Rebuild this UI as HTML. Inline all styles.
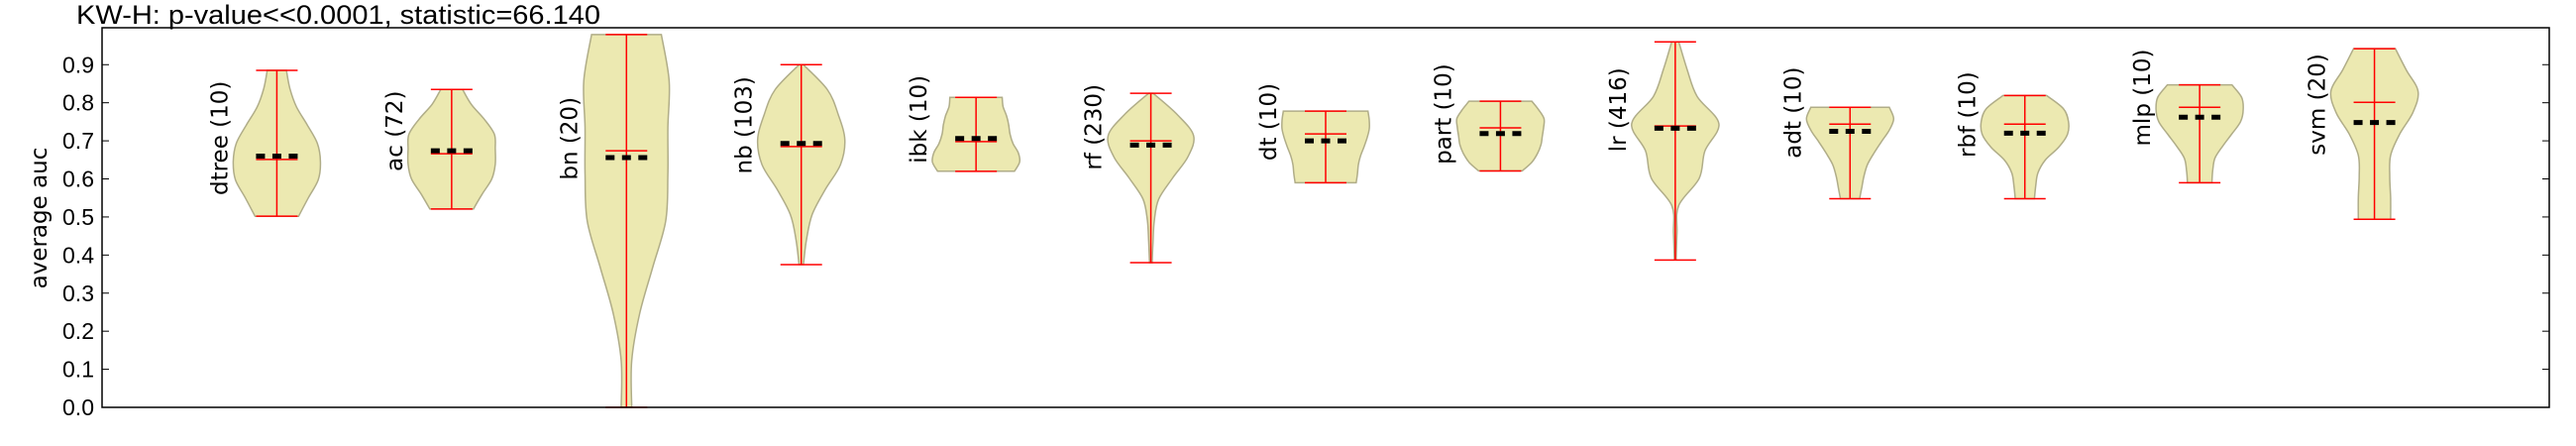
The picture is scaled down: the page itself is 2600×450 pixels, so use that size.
<!DOCTYPE html>
<html><head><meta charset="utf-8">
<style>
html,body{margin:0;padding:0;background:#fff;}
svg{display:block;}
.tick{font-family:"Liberation Sans Narrow","Liberation Sans",sans-serif;font-size:23px;fill:#000;}
.lbl{font-family:"DejaVu Sans","Liberation Sans",sans-serif;font-size:23px;fill:#000;}
</style></head>
<body>
<svg id="chart" width="2600" height="450" viewBox="0 0 2600 450" xmlns="http://www.w3.org/2000/svg">
  <text x="77" y="24" class="tick" style="font-size:27px" textLength="529" lengthAdjust="spacingAndGlyphs">KW-H: p-value&lt;&lt;0.0001, statistic=66.140</text>
  <text class="lbl" transform="translate(47,220) rotate(-90)" text-anchor="middle">average auc</text>
  <g id="marks"></g>
  <g id="axes"></g>
</svg>
<script>
const categories = ["dtree (10)","ac (72)","bn (20)","nb (103)","ibk (10)","rf (230)","dt (10)","part (10)","lr (416)","adt (10)","rbf (10)","mlp (10)","svm (20)"];
const minVals = [0.502,0.521,0.0,0.375,0.62,0.38,0.59,0.621,0.387,0.548,0.548,0.59,0.494];
const maxVals = [0.885,0.835,0.979,0.90,0.814,0.825,0.778,0.804,0.96,0.788,0.819,0.847,0.942];
const meanVals = [0.651,0.666,0.674,0.685,0.698,0.70,0.718,0.734,0.739,0.744,0.744,0.788,0.801];
const medianVals = [0.66,0.674,0.656,0.693,0.706,0.689,0.70,0.719,0.733,0.725,0.72,0.762,0.748];
const labelY = [0.557,0.62,0.597,0.613,0.641,0.623,0.648,0.638,0.671,0.654,0.656,0.686,0.662];
// relative density widths, 9 evenly spaced levels from min to max
const densities = [
 [0.5,0.72,0.95,1.0,0.93,0.7,0.45,0.3,0.22],
 [0.5,0.7,0.92,1.0,1.0,0.98,0.75,0.45,0.25],
 [0.12,0.12,0.3,0.6,0.9,0.95,0.95,0.98,0.8],
 [0.05,0.12,0.25,0.55,0.9,1.0,0.85,0.6,0.05],
 [0.88,1.0,0.97,0.85,0.78,0.75,0.7,0.62,0.6],
 [0.03,0.05,0.08,0.18,0.5,0.85,0.98,0.6,0.05],
 [0.7,0.73,0.75,0.8,0.88,0.95,1.0,1.0,0.97],
 [0.5,0.72,0.85,0.93,0.96,0.99,1.0,0.88,0.72],
 [0.02,0.04,0.08,0.55,0.68,1.0,0.5,0.27,0.08],
 [0.22,0.27,0.32,0.4,0.55,0.72,0.9,1.0,0.9],
 [0.22,0.25,0.3,0.47,0.78,0.98,1.0,0.88,0.5],
 [0.28,0.3,0.35,0.53,0.74,0.94,1.0,0.96,0.74],
 [0.37,0.37,0.35,0.37,0.58,0.88,1.0,0.73,0.48]
];
const yTicks = [0.0,0.1,0.2,0.3,0.4,0.5,0.6,0.7,0.8,0.9];
const yTickLabels = ["0.0","0.1","0.2","0.3","0.4","0.5","0.6","0.7","0.8","0.9"];

const NS="http://www.w3.org/2000/svg";
const L=103,R=2573,T=28,B=411;
const xMin=0,xMax=14,yMin=0,yMax=0.997;
function xs(v){return L+(v-xMin)/(xMax-xMin)*(R-L);}
function ys(v){return B-(v-yMin)/(yMax-yMin)*(B-T);}
const HW=44, CAP=21;
function mk(tag,attrs,parent){const e=document.createElementNS(NS,tag);for(const k in attrs)e.setAttribute(k,attrs[k]);parent.appendChild(e);return e;}
const marks=document.getElementById('marks');
const axes=document.getElementById('axes');

function smoothPath(pts){
  let d="M"+pts[0][0].toFixed(1)+","+pts[0][1].toFixed(1);
  for(let i=0;i<pts.length-1;i++){
    const p0=pts[Math.max(0,i-1)],p1=pts[i],p2=pts[i+1],p3=pts[Math.min(pts.length-1,i+2)];
    const c1=[p1[0]+(p2[0]-p0[0])/6,p1[1]+(p2[1]-p0[1])/6];
    const c2=[p2[0]-(p3[0]-p1[0])/6,p2[1]-(p3[1]-p1[1])/6];
    d+=" C"+c1[0].toFixed(1)+","+c1[1].toFixed(1)+" "+c2[0].toFixed(1)+","+c2[1].toFixed(1)+" "+p2[0].toFixed(1)+","+p2[1].toFixed(1);
  }
  return d;
}

categories.forEach((cat,i)=>{
  const cx=xs(i+1);
  const g=mk('g',{},marks);
  
  
  const dens=densities[i],n=dens.length;
  const right=[],left=[];
  for(let k=0;k<n;k++){
    const v=minVals[i]+(maxVals[i]-minVals[i])*k/(n-1);
    right.push([cx+dens[k]*HW,ys(v)]);
  }
  for(let k=n-1;k>=0;k--){
    const v=minVals[i]+(maxVals[i]-minVals[i])*k/(n-1);
    left.push([cx-dens[k]*HW,ys(v)]);
  }
  let d=smoothPath(right);
  d+=" L"+left[0][0].toFixed(1)+","+left[0][1].toFixed(1);
  d+=smoothPath(left).replace(/^M[^ ]+/,"");
  d+=" Z";
  const body=mk('path',{d:d,fill:'#ece9b1',stroke:'#b0ad88','stroke-width':1.5},g);
  
  
  const vl=mk('line',{x1:cx,x2:cx,y1:ys(minVals[i]),y2:ys(maxVals[i]),stroke:'#ff0000','stroke-width':1.5},g);
  
  
  [[maxVals[i],'max-cap'],[minVals[i],'min-cap'],[meanVals[i],'mean-line']].forEach(([v,nm])=>{
    const l=mk('line',{x1:cx-CAP,x2:cx+CAP,y1:ys(v),y2:ys(v),stroke:'#ff0000','stroke-width':1.5},g);
    
    
  });
  const md=mk('line',{x1:cx-21,x2:cx+21,y1:ys(medianVals[i]),y2:ys(medianVals[i]),stroke:'#000','stroke-width':5,'stroke-dasharray':'9,7.5'},g);
  
  
  const t=mk('text',{class:'lbl',transform:'translate('+(cx-50)+','+ys(labelY[i])+') rotate(-90)'},g);
  t.textContent=cat;
  
  
});

// axes frame
const fr=mk('rect',{x:L,y:T,width:R-L,height:B-T,fill:'none',stroke:'#000','stroke-width':1.5},axes);


yTicks.forEach((v,i)=>{
  const y=ys(v);
  const t1=mk('line',{x1:L,x2:L+7,y1:y,y2:y,stroke:'#000','stroke-width':1},axes);
  
  
  const t2=mk('line',{x1:R-7,x2:R,y1:y,y2:y,stroke:'#000','stroke-width':1},axes);
  
  
  const tl=mk('text',{x:L-8,y:y+8,'text-anchor':'end',class:'tick'},axes);
  tl.textContent=yTickLabels[i];
  
  
});
</script>
</body></html>
